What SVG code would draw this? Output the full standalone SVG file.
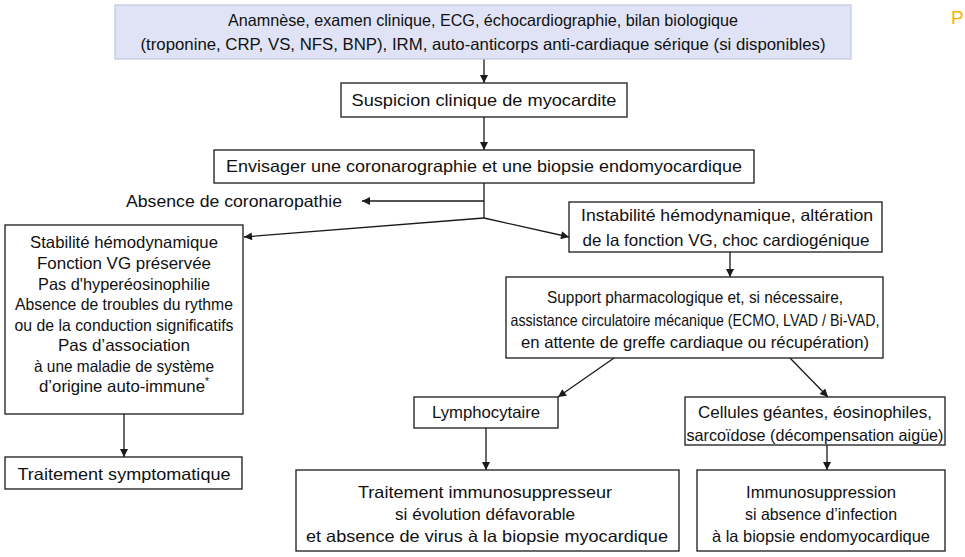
<svg xmlns="http://www.w3.org/2000/svg" width="965" height="557" viewBox="0 0 965 557">
  <style>
    .box { fill: #ffffff; stroke: #1a1a1a; stroke-width: 1.3; }
    text { font-family: "Liberation Sans", Arial, sans-serif; font-size: 16.5px; fill: #111111; text-anchor: middle; dominant-baseline: central; }
    .link { fill: none; stroke: #1a1a1a; stroke-width: 1.3; }
    .arrow { marker-end: url(#tip); }
  </style>
  <defs>
    <marker id="tip" viewBox="0 0 10 10" refX="10" refY="5" markerWidth="9" markerHeight="8" markerUnits="userSpaceOnUse" orient="auto">
      <path d="M0,0 L10,5 L0,10 z" fill="#1a1a1a"/>
    </marker>
  </defs>
  <rect width="965" height="557" fill="#ffffff"/>

  <!-- connectors -->
  <g id="connectors">
    <line class="link arrow" x1="484" y1="59" x2="484" y2="83"/>
    <line class="link arrow" x1="484" y1="117" x2="484" y2="150"/>
    <polyline class="link" points="484,183 484,218"/>
    <line class="link arrow" x1="484" y1="201" x2="362" y2="201"/>
    <line class="link arrow" x1="484" y1="218" x2="244" y2="237"/>
    <line class="link arrow" x1="484" y1="218" x2="569" y2="237"/>
    <line class="link arrow" x1="730" y1="252" x2="730" y2="277"/>
    <line class="link arrow" x1="614" y1="358" x2="558" y2="397"/>
    <line class="link arrow" x1="790" y1="358" x2="828" y2="397"/>
    <line class="link arrow" x1="124" y1="414" x2="124" y2="457"/>
    <line class="link arrow" x1="486" y1="428" x2="486" y2="470"/>
    <line class="link arrow" x1="827" y1="445" x2="827" y2="470"/>
  </g>

  <g id="bilan">
    <rect x="115" y="5" width="736" height="54" fill="#dfe3f5" stroke="#c3c9e3" stroke-width="1.3"/>
    <text x="483" y="20" textLength="510" lengthAdjust="spacingAndGlyphs">Anamnèse, examen clinique, ECG, échocardiographie, bilan biologique</text>
    <text x="483" y="44" textLength="685" lengthAdjust="spacingAndGlyphs">(troponine, CRP, VS, NFS, BNP), IRM, auto-anticorps anti-cardiaque sérique (si disponibles)</text>
  </g>

  <g id="suspicion">
    <rect class="box" x="341" y="83" width="286" height="34"/>
    <text x="484" y="100" textLength="265" lengthAdjust="spacingAndGlyphs">Suspicion clinique de myocardite</text>
  </g>

  <g id="envisager">
    <rect class="box" x="214" y="150" width="540" height="33"/>
    <text x="484" y="166" textLength="516" lengthAdjust="spacingAndGlyphs">Envisager une coronarographie et une biopsie endomyocardique</text>
  </g>

  <g id="absence">
    <text x="234" y="201" textLength="216" lengthAdjust="spacingAndGlyphs">Absence de coronaropathie</text>
  </g>

  <g id="stabilite">
    <rect class="box" x="5" y="225" width="238" height="189"/>
    <text x="124" y="242" textLength="188" lengthAdjust="spacingAndGlyphs">Stabilité hémodynamique</text>
    <text x="124" y="263" textLength="174" lengthAdjust="spacingAndGlyphs">Fonction VG préservée</text>
    <text x="124" y="284" textLength="172" lengthAdjust="spacingAndGlyphs">Pas d'hyperéosinophilie</text>
    <text x="124" y="304" textLength="218" lengthAdjust="spacingAndGlyphs">Absence de troubles du rythme</text>
    <text x="124" y="325" textLength="219" lengthAdjust="spacingAndGlyphs">ou de la conduction significatifs</text>
    <text x="124" y="345" textLength="132" lengthAdjust="spacingAndGlyphs">Pas d’association</text>
    <text x="124" y="366" textLength="180" lengthAdjust="spacingAndGlyphs">à une maladie de système</text>
    <text x="124" y="386" textLength="170" lengthAdjust="spacingAndGlyphs">d’origine auto-immune<tspan font-size="10" dy="-5">*</tspan></text>
  </g>

  <g id="symptomatique">
    <rect class="box" x="5" y="457" width="237" height="32"/>
    <text x="124" y="474" textLength="213" lengthAdjust="spacingAndGlyphs">Traitement symptomatique</text>
  </g>

  <g id="instabilite">
    <rect class="box" x="569" y="202" width="313" height="50"/>
    <text x="727" y="215" textLength="292" lengthAdjust="spacingAndGlyphs">Instabilité hémodynamique, altération</text>
    <text x="726" y="240" textLength="287" lengthAdjust="spacingAndGlyphs">de la fonction VG, choc cardiogénique</text>
  </g>

  <g id="support">
    <rect class="box" x="506" y="277" width="377" height="81"/>
    <text x="695" y="297" textLength="296" lengthAdjust="spacingAndGlyphs">Support pharmacologique et, si nécessaire,</text>
    <text x="695" y="320" textLength="369" lengthAdjust="spacingAndGlyphs">assistance circulatoire mécanique (ECMO, LVAD / Bi-VAD,</text>
    <text x="695" y="342" textLength="348" lengthAdjust="spacingAndGlyphs">en attente de greffe cardiaque ou récupération)</text>
  </g>

  <g id="lymphocytaire">
    <rect class="box" x="414" y="397" width="144" height="31"/>
    <text x="486" y="412" textLength="108" lengthAdjust="spacingAndGlyphs">Lymphocytaire</text>
  </g>

  <g id="cellules">
    <rect class="box" x="685" y="397" width="260" height="48"/>
    <text x="815" y="412" textLength="234" lengthAdjust="spacingAndGlyphs">Cellules géantes, éosinophiles,</text>
    <text x="815" y="435" textLength="257" lengthAdjust="spacingAndGlyphs">sarcoïdose (décompensation aigüe)</text>
  </g>

  <g id="immunosuppresseur">
    <rect class="box" x="296" y="470" width="383" height="81"/>
    <text x="485" y="492" textLength="254" lengthAdjust="spacingAndGlyphs">Traitement immunosuppresseur</text>
    <text x="485" y="514" textLength="180" lengthAdjust="spacingAndGlyphs">si évolution défavorable</text>
    <text x="487" y="536" textLength="362" lengthAdjust="spacingAndGlyphs">et absence de virus à la biopsie myocardique</text>
  </g>

  <g id="immunosuppression">
    <rect class="box" x="697" y="470" width="248" height="81"/>
    <text x="821" y="492" textLength="150" lengthAdjust="spacingAndGlyphs">Immunosuppression</text>
    <text x="821" y="514" textLength="152" lengthAdjust="spacingAndGlyphs">si absence d’infection</text>
    <text x="821" y="536" textLength="218" lengthAdjust="spacingAndGlyphs">à la biopsie endomyocardique</text>
  </g>

  <text x="951" y="17" style="fill:#f5b400; font-size:19px; text-anchor:start;">P</text>
</svg>
